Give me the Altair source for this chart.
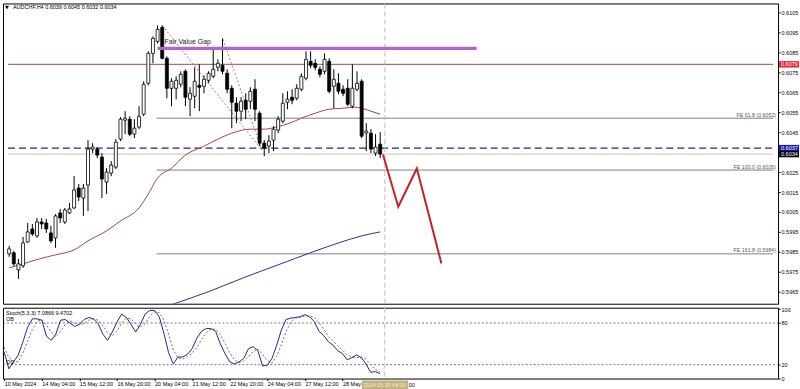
import altair as alt
import pandas as pd

# ---------------- data ----------------
bars = list(range(81))
opens = [0.59840,0.59845,0.59760,0.59780,0.59900,0.59965,0.59930,0.60000,0.59995,0.59945,
         0.59920,0.60045,0.60000,0.60045,0.60070,0.60170,0.60120,0.60185,0.60365,0.60365,
         0.60325,0.60200,0.60245,0.60275,0.60415,0.60510,0.60515,0.60440,0.60475,0.60540,
         0.60695,0.60845,0.60905,0.60975,0.60820,0.60670,0.60670,0.60690,0.60755,0.60615,
         0.60630,0.60685,0.60680,0.60710,0.60730,0.60775,0.60785,0.60745,0.60670,0.60595,
         0.60555,0.60610,0.60605,0.60665,0.60545,0.60395,0.60380,0.60410,0.60460,0.60505,
         0.60600,0.60625,0.60620,0.60665,0.60720,0.60805,0.60795,0.60765,0.60755,0.60805,
         0.60680,0.60695,0.60665,0.60670,0.60580,0.60665,0.60705,0.60445,0.60445,0.60345,
         0.60390]
highs = [0.59880,0.59855,0.59815,0.59925,0.59995,0.59990,0.60020,0.60020,0.60015,0.59980,
         0.60040,0.60065,0.60070,0.60095,0.60230,0.60190,0.60190,0.60410,0.60395,0.60375,
         0.60345,0.60270,0.60305,0.60415,0.60525,0.60555,0.60530,0.60515,0.60580,0.60705,
         0.60855,0.60930,0.60985,0.60985,0.60830,0.60720,0.60730,0.60755,0.60765,0.60675,
         0.60775,0.60790,0.60735,0.60755,0.60875,0.60815,0.60920,0.60765,0.60685,0.60625,
         0.60625,0.60645,0.60675,0.60715,0.60555,0.60410,0.60435,0.60480,0.60530,0.60645,
         0.60655,0.60665,0.60690,0.60745,0.60855,0.60855,0.60815,0.60780,0.60845,0.60820,
         0.60765,0.60745,0.60685,0.60715,0.60790,0.60755,0.60715,0.60495,0.60465,0.60440,
         0.60450]
lows = [0.59825,0.59780,0.59715,0.59770,0.59895,0.59930,0.59920,0.59965,0.59945,0.59895,
        0.59870,0.59995,0.59990,0.60040,0.60065,0.60105,0.60030,0.60055,0.60345,0.60320,
        0.60120,0.60140,0.60230,0.60265,0.60405,0.60440,0.60430,0.60420,0.60465,0.60530,
        0.60685,0.60795,0.60895,0.60815,0.60620,0.60580,0.60615,0.60675,0.60580,0.60530,
        0.60570,0.60555,0.60645,0.60695,0.60720,0.60755,0.60740,0.60645,0.60470,0.60495,
        0.60505,0.60515,0.60565,0.60505,0.60380,0.60330,0.60345,0.60355,0.60445,0.60495,
        0.60565,0.60590,0.60610,0.60655,0.60710,0.60770,0.60760,0.60725,0.60740,0.60645,
        0.60570,0.60640,0.60630,0.60580,0.60570,0.60655,0.60420,0.60355,0.60345,0.60330,
        0.60320]
closes = [0.59865,0.59790,0.59790,0.59895,0.59950,0.59940,0.60000,0.59990,0.59965,0.59905,
          0.60030,0.60020,0.60060,0.60065,0.60160,0.60125,0.60170,0.60365,0.60375,0.60335,
          0.60215,0.60250,0.60285,0.60400,0.60515,0.60520,0.60440,0.60470,0.60530,0.60690,
          0.60845,0.60920,0.60965,0.60820,0.60670,0.60705,0.60710,0.60740,0.60625,0.60645,
          0.60705,0.60675,0.60715,0.60745,0.60765,0.60795,0.60755,0.60665,0.60600,0.60555,
          0.60605,0.60565,0.60655,0.60565,0.60395,0.60370,0.60405,0.60465,0.60515,0.60595,
          0.60615,0.60610,0.60670,0.60730,0.60815,0.60785,0.60775,0.60740,0.60815,0.60655,
          0.60715,0.60655,0.60645,0.60590,0.60670,0.60695,0.60430,0.60455,0.60365,0.60375,
          0.60340]

ma_red_bar = [0, 3, 6.5, 10, 14, 17, 21, 24, 28, 30, 32, 35, 38, 42, 45, 48, 52, 55, 57.5,
              60.5, 63, 66, 69, 72, 74.5, 76, 78, 80]
ma_red_val = [0.59770, 0.59790, 0.59815, 0.59835, 0.59860, 0.59905, 0.59955, 0.60005, 0.60070,
              0.60140, 0.60220, 0.60270, 0.60335, 0.60380, 0.60415, 0.60445, 0.60465, 0.60465,
              0.60475, 0.60495, 0.60520, 0.60545, 0.60565, 0.60570, 0.60575, 0.60570, 0.60555,
              0.60540]
ma_blue_bar = [35, 43.5, 50.5, 58, 65.5, 71.7, 76, 80]
ma_blue_val = [0.59585, 0.59655, 0.59720, 0.59785, 0.59850, 0.59900, 0.59930, 0.59950]

stoch_k = [38, 14, 24, 34, 53, 74, 86, 86, 84, 61, 55, 64, 84, 85, 80, 75, 78, 85, 88, 86,
           79, 64, 55, 67, 81, 93, 88, 78, 67, 78, 93, 98, 98, 89, 65, 37, 21, 31, 31, 35,
           43, 58, 68, 72, 72, 68, 50, 36, 24, 21, 24, 29, 43, 46, 40, 18, 19, 29, 48, 70,
           85, 87, 88, 89, 92, 89, 82, 68, 62, 53, 48, 40, 36, 27, 30, 34, 30, 21, 9, 10,
           7.0866]
stoch_d = [45, 30, 25, 24, 37, 54, 71, 82, 85, 77, 67, 60, 68, 78, 83, 80, 78, 79, 84, 86,
           84, 76, 66, 62, 68, 80, 87, 86, 78, 74, 79, 90, 96, 95, 84, 64, 41, 30, 28, 32,
           36, 45, 56, 66, 71, 71, 63, 51, 37, 27, 23, 25, 32, 39, 43, 35, 26, 22, 32, 49,
           68, 81, 87, 88, 90, 90, 88, 80, 71, 61, 54, 47, 41, 34, 31, 30, 31, 28, 20, 13,
           9.4702]

fe_prices = [0.6052, 0.6026, 0.5984]
fe_labels = ["FE 61.8 (0.6052)", "FE 100.0 (0.6026)", "FE 161.8 (0.5984)"]
fe_path_bar = [33, 54.5, 46]
fe_path_val = [0.60985, 0.60360, 0.60920]
fvg_price = 0.6087
resist_price = 0.6079
blue_level = 0.6037
bid_price = 0.6034
zig_bar = [80.6, 83.9, 87.9, 93.2]
zig_val = [0.60338, 0.60076, 0.60268, 0.59792]
tag_prices = [0.6079, 0.6037, 0.6034]
tag_colors = ["#e3262b", "#1414c8", "#000000"]

price_ticks = [0.5965, 0.5975, 0.5985, 0.5995, 0.6005, 0.6015, 0.6025, 0.6035, 0.6045,
               0.6055, 0.6065, 0.6075, 0.6085, 0.6095, 0.6105]
tick_bars = [0, 8, 16, 24, 32, 40, 48, 56, 64, 72]
tick_labels = ["10 May 2024", "14 May 04:00", "15 May 12:00", "16 May 20:00", "20 May 04:00",
               "21 May 12:00", "22 May 20:00", "24 May 04:00", "27 May 12:00", "28 May"]
cursor_bar = 81
cursor_label = "2024.05.30 08:00"
cut_label = "00"
title_text = "AUDCHF,H4  0.6039 0.6045 0.6032 0.6034"
stoch_title = "Stoch(5,3,3) 7.0866 9.4702"

# ---------------- layout ----------------
W, HM, HS = 777, 301, 71
XDOM = [-0.255, 164.71]
YDOM = [0.5959, 0.61095]
SDOM = [0, 102]
FONT = "Liberation Sans"
FS = 5.5

xs = alt.Scale(domain=XDOM, nice=False, zero=False)
ys = alt.Scale(domain=YDOM, nice=False, zero=False)
ss = alt.Scale(domain=SDOM, nice=False, zero=False)

yax = alt.Axis(orient="right", values=price_ticks, format=".4f", tickSize=2, labelPadding=1,
               labelFontSize=FS, labelFont=FONT, labelColor="#000", tickColor="#000",
               domain=False, grid=False, title=None, labelFlush=False, labelOverlap=False)
sax = alt.Axis(orient="right", values=[0, 20, 80, 100], format="d", tickSize=2, labelPadding=1,
               labelFontSize=FS, labelFont=FONT, labelColor="#000", tickColor="#000",
               domain=False, grid=False, title=None, labelFlush=False, labelOverlap=False)
label_arr = "[" + ",".join("'" + s + "'" for s in tick_labels) + "]"
xax = alt.Axis(orient="bottom", values=tick_bars, labelExpr=label_arr + "[round(datum.value/8)]",
               labelAlign="left", labelFontSize=FS, labelFont=FONT, labelColor="#000",
               tickSize=2, tickColor="#000", labelPadding=1, domain=False, grid=False,
               title=None, labelFlush=False, labelOverlap=False)


def XM(f):
    return alt.X(f, type="quantitative", scale=xs, axis=None)


def YM(f):
    return alt.Y(f, type="quantitative", scale=ys, axis=yax)


def XS(f):
    return alt.X(f, type="quantitative", scale=xs, axis=xax)


def YS(f):
    return alt.Y(f, type="quantitative", scale=ss, axis=sax)


cdf = pd.DataFrame({"bar": bars, "open": opens, "high": highs, "low": lows, "close": closes})


def hline(price, x1, x2, color, width=1.0, dash=None):
    d = pd.DataFrame({"p": [price], "x1": [x1], "x2": [x2]})
    kw = dict(color=color, strokeWidth=width, clip=True)
    if dash:
        kw["strokeDash"] = dash
    return alt.Chart(d).mark_rule(**kw).encode(x=XM("x1"), x2="x2", y=YM("p"))


layers = []
# horizontal levels
layers.append(hline(bid_price, XDOM[0], XDOM[1], "#c4c4c4"))
layers.append(hline(resist_price, XDOM[0], XDOM[1], "#a34b4b"))
for p in fe_prices:
    layers.append(hline(p, 31.8, XDOM[1], "#808080"))
layers.append(hline(blue_level, XDOM[0], XDOM[1], "#26267e", 1.2, [7, 4]))

# vertical cursor line
vdf = pd.DataFrame({"b": [cursor_bar]})
layers.append(alt.Chart(vdf).mark_rule(color="#cbbf9f", strokeDash=[5, 3], strokeWidth=1)
              .encode(x=XM("b")))

# moving averages
layers.append(alt.Chart(pd.DataFrame({"b": ma_red_bar, "v": ma_red_val}))
              .mark_line(color="#a84444", strokeWidth=1, clip=True, interpolate="monotone")
              .encode(x=XM("b"), y=YM("v")))
layers.append(alt.Chart(pd.DataFrame({"b": ma_blue_bar, "v": ma_blue_val}))
              .mark_line(color="#2e2e8c", strokeWidth=1, clip=True, interpolate="monotone")
              .encode(x=XM("b"), y=YM("v")))

# FE dotted path
fedf = pd.DataFrame({"b": fe_path_bar, "v": fe_path_val, "o": [0, 1, 2]})
layers.append(alt.Chart(fedf).mark_line(color="#a85a55", strokeDash=[2, 2], strokeWidth=0.8)
              .encode(x=XM("b"), y=YM("v"), order="o:Q"))

# candles
layers.append(alt.Chart(cdf).mark_rule(color="#000", strokeWidth=1, clip=True)
              .encode(x=XM("bar"), y=YM("low"), y2="high"))
layers.append(alt.Chart(cdf).mark_bar(size=3, stroke="#000", strokeWidth=0.8, clip=True)
              .encode(x=XM("bar"), y=YM("open"), y2="close",
                      fill=alt.condition("datum.close >= datum.open",
                                         alt.value("#ffffff"), alt.value("#000000"))))

# Fair value gap
fvg = pd.DataFrame({"x1": [32.0], "x2": [100.8], "p": [fvg_price]})
layers.append(alt.Chart(fvg).mark_rule(color="#b85fd2", strokeWidth=3.2)
              .encode(x=XM("x1"), x2="x2", y=YM("p")))
layers.append(alt.Chart(pd.DataFrame({"b": [33.5], "v": [0.60902], "t": ["Fair Value Gap"]}))
              .mark_text(align="left", baseline="middle", fontSize=7, font=FONT, color="#222")
              .encode(x=XM("b"), y=YM("v"), text="t:N"))

# FE labels
layers.append(alt.Chart(pd.DataFrame({"p": fe_prices, "t": fe_labels}))
              .mark_text(align="right", baseline="bottom", dy=-0.5, fontSize=5.3, font=FONT,
                         color="#5a5a5a")
              .encode(x=alt.value(W - 2), y=YM("p"), text="t:N"))

# red projection zigzag
zdf = pd.DataFrame({"b": zig_bar, "v": zig_val, "o": [0, 1, 2, 3]})
layers.append(alt.Chart(zdf).mark_line(color="#cc1f26", strokeWidth=2, clip=True)
              .encode(x=XM("b"), y=YM("v"), order="o:Q"))

# price tags on the axis
tdf = pd.DataFrame({"p": tag_prices, "c": tag_colors,
                    "t": ["%.4f" % v for v in tag_prices]})
tdf["p1"] = tdf["p"] + 0.00016
tdf["p2"] = tdf["p"] - 0.00016
layers.append(alt.Chart(tdf).mark_rect()
              .encode(x=alt.value(W + 1), x2=alt.value(W + 21), y=YM("p1"), y2="p2",
                      color=alt.Color("c:N", scale=None)))
layers.append(alt.Chart(tdf).mark_text(align="left", baseline="middle", fontSize=FS, font=FONT,
                                       color="#ffffff")
              .encode(x=alt.value(W + 3), y=YM("p"), text="t:N"))

# title
layers.append(alt.Chart(pd.DataFrame({"t": ["\u25bc"]}))
              .mark_text(align="center", baseline="middle", fontSize=5, font="DejaVu Sans",
                         color="#000")
              .encode(x=alt.value(4), y=alt.value(4), text="t:N"))
layers.append(alt.Chart(pd.DataFrame({"t": [title_text]}))
              .mark_text(align="left", baseline="middle", fontSize=FS, font=FONT, color="#000")
              .encode(x=alt.value(10), y=alt.value(4), text="t:N"))

main = alt.layer(*layers).properties(width=W, height=HM)

# ---------------- stochastic panel ----------------
sdf = pd.DataFrame({"bar": bars, "k": stoch_k, "d": stoch_d})
sl = []
for lvl in [80, 20]:
    sl.append(alt.Chart(pd.DataFrame({"x1": [XDOM[0]], "x2": [XDOM[1]], "v": [lvl]}))
              .mark_rule(color="#555", strokeDash=[2, 2], strokeWidth=0.8)
              .encode(x=XS("x1"), x2="x2", y=YS("v")))
sl.append(alt.Chart(vdf).mark_rule(color="#cbbf9f", strokeDash=[5, 3], strokeWidth=1)
          .encode(x=XS("b")))
sl.append(alt.Chart(sdf).mark_line(color="#c45050", strokeDash=[2, 2], strokeWidth=1)
          .encode(x=XS("bar"), y=YS("d")))
sl.append(alt.Chart(sdf).mark_line(color="#25258f", strokeWidth=1)
          .encode(x=XS("bar"), y=YS("k")))
for txt, yy in [(stoch_title, 5.5), ("OB", 11.5), ("OS", 54)]:
    sl.append(alt.Chart(pd.DataFrame({"t": [txt]}))
              .mark_text(align="left", baseline="middle", fontSize=FS, font=FONT, color="#000")
              .encode(x=alt.value(3), y=alt.value(yy), text="t:N"))
# cursor time label
cdf2 = pd.DataFrame({"x1": [cursor_bar - 4.9], "x2": [cursor_bar + 5.0], "b": [cursor_bar],
                     "t": [cursor_label], "xe": [cursor_bar + 5.1], "u": [cut_label]})
sl.append(alt.Chart(cdf2).mark_rect(color="#c4b27e")
          .encode(x=XS("x1"), x2="x2", y=alt.value(HS + 2), y2=alt.value(HS + 11)))
sl.append(alt.Chart(cdf2).mark_text(align="center", baseline="middle", fontSize=FS, font=FONT,
                                    color="#f4efdf")
          .encode(x=XS("b"), y=alt.value(HS + 6.5), text="t:N"))
sl.append(alt.Chart(cdf2).mark_text(align="left", baseline="middle", fontSize=FS, font=FONT,
                                    color="#000")
          .encode(x=XS("xe"), y=alt.value(HS + 6.5), text="u:N"))

stoch = alt.layer(*sl).properties(width=W, height=HS)

chart = (alt.vconcat(main, stoch, spacing=1)
         .properties(padding={"left": 1, "top": 2, "right": 0, "bottom": 0}, background="#ffffff")
         .configure_view(stroke="#000", strokeWidth=1))

chart.save("out.html", embed_options={"renderer": "svg", "actions": False})
